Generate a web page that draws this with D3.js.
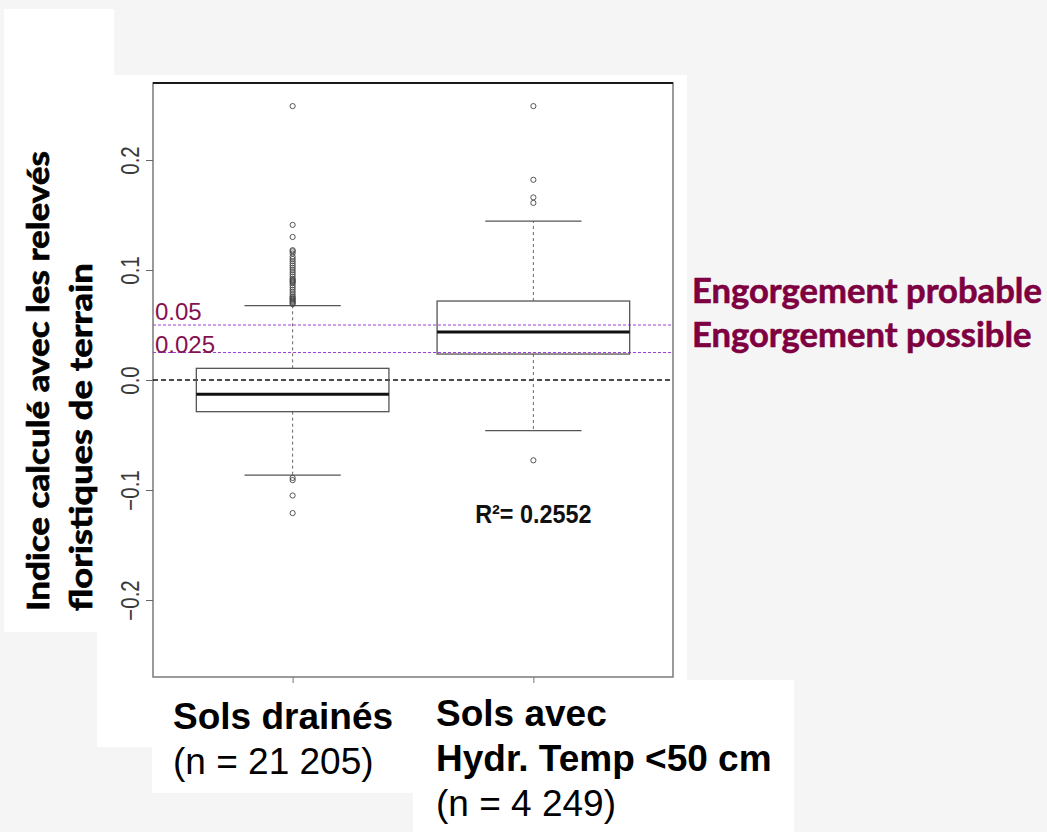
<!DOCTYPE html>
<html><head><meta charset="utf-8">
<script src="https://cdn.jsdelivr.net/npm/d3@7"></script>
<style>body{margin:0;background:#f5f5f5;} svg{display:block}</style>
</head><body><svg id="c" width="1047" height="832"></svg>
<script>
// ---- data ----
const categories = ["Sols drainés", "Sols avec Hydr. Temp <50 cm"];
const labelLines = [["Sols drainés"], ["Sols avec", "Hydr. Temp <50 cm"]];
const counts = ["(n = 21 205)", "(n = 4 249)"];
const q1 = [-0.0288, 0.0236];
const medians = [-0.013, 0.0436];
const q3 = [0.0106, 0.0718];
const whiskerLow = [-0.0864, -0.0461];
const whiskerHigh = [0.0676, 0.1445];
const outliers1 = [0.249, 0.141, 0.130, 0.118, 0.117, 0.115, 0.112, 0.110, 0.108, 0.106, 0.104,
  0.102, 0.100, 0.098, 0.096, 0.094, 0.092, 0.091, 0.090, 0.089, 0.088, 0.086, 0.084, 0.082,
  0.080, 0.078, 0.076, 0.075, 0.074, 0.073, 0.072, 0.071, 0.070, 0.069,
  -0.089, -0.091, -0.105, -0.121];
const outliers2 = [0.249, 0.182, 0.166, 0.161, -0.073];
const yTicks = [-0.2, -0.1, 0.0, 0.1, 0.2];
const thresholds = [0.05, 0.025];
const thresholdLabels = ["0.05", "0.025"];
const zoneLabels = ["Engorgement probable", "Engorgement possible"];
const rSquared = "R²= 0.2552";
const yTitle = ["Indice calculé avec les relevés", "floristiques de terrain"];

// ---- layout ----
const svg = d3.select("#c");
const L = 153, R = 673, T = 83, B = 677;
const x = d3.scaleLinear().domain([0.42, 2.58]).range([L, R]);
const y = d3.scaleLinear().domain([-0.27, 0.27]).range([B, T]);
const boxW = x(0.8) - x(0);

// white panels
const panels = [[4, 9, 110, 623], [97, 75, 590, 672], [152, 680, 261, 113], [413, 680, 381, 152]];
svg.selectAll("rect.panel").data(panels).join("rect").attr("class", "panel")
  .attr("x", d => d[0]).attr("y", d => d[1]).attr("width", d => d[2]).attr("height", d => d[3])
  .attr("fill", "#fff");

// y title
const yt = svg.append("g").attr("font-family", "Lato, 'Open Sans', sans-serif")
  .attr("font-weight", "bold").attr("font-size", 31).attr("fill", "#000")
  .attr("stroke", "#000").attr("stroke-width", 0.7);
const ytTexts = yt.selectAll("text").data(yTitle).join("text").text(d => d);
const ytLen = [460, 348];
ytTexts.attr("transform", function (d, i) {
  const s = ytLen[i] / this.getComputedTextLength();
  return `translate(${[49, 92][i]},611) rotate(-90) scale(${s},1)`;
});

// frame
svg.append("rect").attr("x", L).attr("y", T).attr("width", R - L).attr("height", B - T)
  .attr("fill", "#fff").attr("stroke", "#7a7a7a").attr("stroke-width", 1.5);
svg.append("line").attr("x1", L).attr("x2", R).attr("y1", T).attr("y2", T)
  .attr("stroke", "#1a1a1a").attr("stroke-width", 1.8);

// y axis
const yAxis = svg.append("g").attr("transform", `translate(${L},0)`)
  .call(d3.axisLeft(y).tickValues(yTicks).tickFormat(d3.format(".1f")).tickSize(7).tickSizeOuter(0));
yAxis.select(".domain").remove();
yAxis.selectAll(".tick line").attr("stroke", "#666");
yAxis.selectAll(".tick text")
  .attr("font-family", "'Liberation Sans', Arial, sans-serif").attr("font-size", 25)
  .attr("fill", "#3a3a3a").attr("text-anchor", "middle").attr("dy", 0).attr("x", 0)
  .attr("transform", "translate(-14,0) rotate(-90) scale(0.82,1)");

// x axis ticks
const xAxis = svg.append("g").attr("transform", `translate(0,${B})`)
  .call(d3.axisBottom(x).tickValues([1, 2]).tickFormat("").tickSize(6).tickSizeOuter(0));
xAxis.select(".domain").remove();
xAxis.selectAll(".tick line").attr("stroke", "#777");

// threshold lines
svg.selectAll("line.thr").data(thresholds).join("line").attr("class", "thr")
  .attr("x1", L).attr("x2", R).attr("y1", d => y(d)).attr("y2", d => y(d))
  .attr("stroke", "#a040d8").attr("stroke-width", 1).attr("stroke-dasharray", "3,2");
svg.selectAll("text.thr").data(thresholdLabels).join("text").attr("class", "thr")
  .attr("x", L + 2).attr("y", (d, i) => y(thresholds[i]) - [5, 0][i])
  .attr("font-family", "'Liberation Sans', Arial, sans-serif").attr("font-size", 24)
  .attr("fill", "#86114f").text(d => d);

// zero line
svg.append("line").attr("x1", L).attr("x2", R).attr("y1", y(0)).attr("y2", y(0))
  .attr("stroke", "#111").attr("stroke-width", 1.4).attr("stroke-dasharray", "5,3");

// boxplots
const idx = d3.range(categories.length);
const g = svg.append("g");
idx.forEach(i => {
  const cx = x(i + 1);
  g.append("line").attr("x1", cx).attr("x2", cx).attr("y1", y(q3[i])).attr("y2", y(whiskerHigh[i]))
    .attr("stroke", "#666").attr("stroke-width", 1).attr("stroke-dasharray", "3,3");
  g.append("line").attr("x1", cx).attr("x2", cx).attr("y1", y(q1[i])).attr("y2", y(whiskerLow[i]))
    .attr("stroke", "#666").attr("stroke-width", 1).attr("stroke-dasharray", "3,3");
  [whiskerHigh[i], whiskerLow[i]].forEach(v => {
    g.append("line").attr("x1", cx - boxW / 4).attr("x2", cx + boxW / 4).attr("y1", y(v)).attr("y2", y(v))
      .attr("stroke", "#555").attr("stroke-width", 1.3);
  });
});
g.selectAll("rect.box").data(idx).join("rect").attr("class", "box")
  .attr("x", i => x(i + 1) - boxW / 2).attr("width", boxW)
  .attr("y", i => y(q3[i])).attr("height", i => y(q1[i]) - y(q3[i]))
  .attr("fill", "none").attr("stroke", "#555").attr("stroke-width", 1.3);
g.selectAll("line.med").data(idx).join("line").attr("class", "med")
  .attr("x1", i => x(i + 1) - boxW / 2).attr("x2", i => x(i + 1) + boxW / 2)
  .attr("y1", i => y(medians[i])).attr("y2", i => y(medians[i]))
  .attr("stroke", "#111").attr("stroke-width", 3);
const outl = [outliers1, outliers2].flatMap((arr, i) => arr.map(v => ({ i, v })));
g.selectAll("circle.out").data(outl).join("circle").attr("class", "out")
  .attr("cx", d => x(d.i + 1)).attr("cy", d => y(d.v)).attr("r", 2.6)
  .attr("fill", "none").attr("stroke", "#444").attr("stroke-width", 0.9);

// R squared
svg.append("text").attr("transform", `translate(${x(2)},523) scale(0.9,1)`)
  .attr("text-anchor", "middle").attr("font-family", "'Liberation Sans', Arial, sans-serif")
  .attr("font-weight", "bold").attr("font-size", 26).attr("fill", "#111").text(rSquared);

// zone labels (right)
const zl = svg.append("g").attr("font-family", "Lato, 'Open Sans', sans-serif")
  .attr("font-weight", "bold").attr("font-size", 35).attr("fill", "#7e0041")
  .attr("stroke", "#7e0041").attr("stroke-width", 0.6);
const zt = zl.selectAll("text").data(zoneLabels).join("text").text(d => d);
const zs = 350 / zt.nodes()[0].getComputedTextLength();
zt.attr("transform", (d, i) => `translate(692,${[303, 347][i]}) scale(${zs},1)`);

// category labels
const catX = [173, 436];
const catY0 = [729, 726];
const lh = 45;
const cl = svg.append("g").attr("font-family", "'Liberation Sans', Arial, sans-serif").attr("font-size", 37).attr("fill", "#000");
idx.forEach(i => {
  labelLines[i].forEach((s, k) => {
    cl.append("text").attr("x", catX[i]).attr("y", catY0[i] + k * lh).attr("font-weight", "bold").text(s);
  });
  cl.append("text").attr("x", catX[i]).attr("y", catY0[i] + labelLines[i].length * lh).text(counts[i]);
});
</script></body></html>
